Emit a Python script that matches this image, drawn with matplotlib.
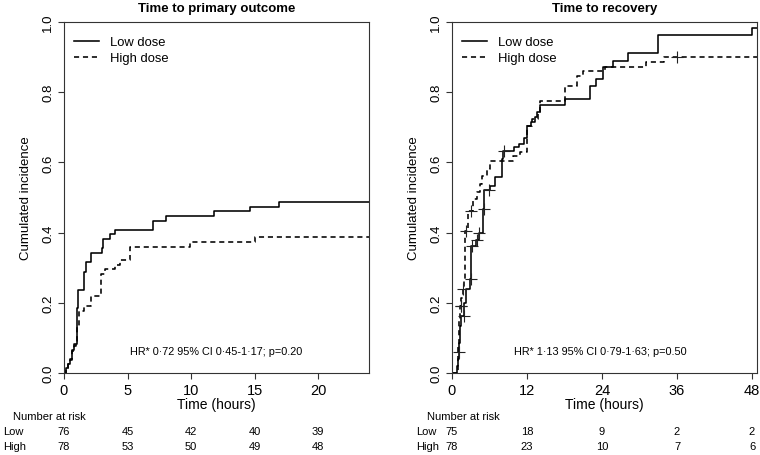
import matplotlib
matplotlib.use("Agg")
import matplotlib.pyplot as plt
import matplotlib.transforms as mtransforms
import numpy as np

plt.rcParams["font.family"] = ["Liberation Sans", "DejaVu Sans"]

# ---------------------------------------------------------------------------
# data
# ---------------------------------------------------------------------------
# left panel: time to primary outcome
prim_low_t = [0, 0.15, 0.3, 0.45, 0.6, 0.75, 1.0, 1.13, 1.57, 1.73, 2.1, 2.97,
              3.1, 3.6, 4.0, 7.0, 8.0, 11.8, 14.6, 16.9]
prim_low_v = [0, 0.013, 0.026, 0.04, 0.066, 0.083, 0.185, 0.236, 0.289, 0.315,
              0.341, 0.356, 0.382, 0.396, 0.408, 0.434, 0.448, 0.461, 0.474, 0.487]
prim_high_t = [0, 0.15, 0.3, 0.45, 0.6, 0.75, 0.95, 1.05, 1.15, 1.6, 2.1, 2.9,
               3.2, 4.0, 4.4, 5.2, 9.9, 15.0]
prim_high_v = [0, 0.013, 0.026, 0.038, 0.064, 0.077, 0.09, 0.135, 0.177, 0.19,
               0.218, 0.282, 0.296, 0.308, 0.321, 0.36, 0.373, 0.387]

# right panel: time to recovery
rec_low_t = [0, 0.85, 0.95, 1.05, 1.15, 1.25, 1.35, 1.5, 1.9, 2.3, 2.85, 3.1,
             3.9, 4.37, 4.9, 5.0, 5.2, 6.1, 6.9, 7.95, 8.2, 9.9, 10.7, 11.5,
             12.0, 12.6, 13.2, 13.6, 14.0, 18.0, 22.0, 23.0, 24.1, 25.8, 28.2,
             33.0, 47.95]
rec_low_v = [0, 0.02, 0.04, 0.06, 0.085, 0.11, 0.135, 0.163, 0.2, 0.24, 0.268,
             0.363, 0.38, 0.40, 0.44, 0.467, 0.52, 0.534, 0.557, 0.61, 0.633,
             0.643, 0.652, 0.669, 0.705, 0.714, 0.728, 0.743, 0.764, 0.78,
             0.817, 0.838, 0.871, 0.89, 0.911, 0.963, 0.982]
rec_high_t = [0, 0.9, 1.0, 1.1, 1.2, 1.35, 1.5, 1.7, 1.85, 2.15, 2.6, 3.4,
              3.95, 4.48, 4.75, 5.55, 6.08, 9.8, 10.9, 11.95, 12.75, 13.8,
              14.1, 18.0, 19.95, 21.0, 24.5, 31.0, 33.9]
rec_high_v = [0, 0.04, 0.08, 0.12, 0.155, 0.19, 0.215, 0.24, 0.262, 0.405,
              0.462, 0.496, 0.515, 0.538, 0.562, 0.581, 0.605, 0.619, 0.63,
              0.705, 0.724, 0.745, 0.776, 0.817, 0.845, 0.86, 0.873, 0.885,
              0.901]
rec_low_cens = [1.12, 1.87, 2.99, 3.2, 4.05, 4.4, 5.1, 6.0, 8.4]
rec_high_cens = [1.4, 1.45, 1.76, 2.3, 3.1, 36.0]

# number at risk
prim_risk_t = [0, 5, 10, 15, 20]
prim_risk_low = [76, 45, 42, 40, 39]
prim_risk_high = [78, 53, 50, 49, 48]
rec_risk_t = [0, 12, 24, 36, 48]
rec_risk_low = [75, 18, 9, 2, 2]
rec_risk_high = [78, 23, 10, 7, 6]

prim_hr = "HR* 0·72 95% CI 0·45-1·17; p=0.20"
rec_hr = "HR* 1·13 95% CI 0·79-1·63; p=0.50"

DASH = (0, (3.2, 2.4))
BOX = "#333333"


def _step(ax, times, values, xmax, ls):
    t = np.append(times, xmax)
    v = np.append(values, values[-1])
    ax.step(t, v, where="post", color="black", lw=1.15, linestyle=ls)


def _censor(ax, times, values, cens):
    times = np.asarray(times)
    idx = np.searchsorted(times, cens, side="right") - 1
    y = np.asarray(values)[idx]
    ax.plot(cens, y, ls="none", marker="+", ms=8.5, mew=0.8, color="#222222")


def _panel(ax, title, xmax, xticks, low, high, hr_text, hr_x,
           risk_t, risk_low, risk_high, name_x, header_x):
    _step(ax, low[0], low[1], xmax, "-")
    _step(ax, high[0], high[1], xmax, DASH)
    ax.plot([], [], color="black", lw=1.15, label="Low dose")
    ax.plot([], [], color="black", lw=1.15, ls=DASH, label="High dose")

    ax.set_xlim(0, xmax)
    ax.set_ylim(0, 1)
    ax.set_xticks(xticks)
    ax.set_yticks([0, 0.2, 0.4, 0.6, 0.8, 1.0])
    ax.set_yticklabels(["0.0", "0.2", "0.4", "0.6", "0.8", "1.0"],
                       rotation=90, va="center")
    ax.tick_params(axis="x", labelsize=10.5, length=4.5, width=0.8, pad=2.5,
                   color=BOX)
    ax.tick_params(axis="y", labelsize=9.5, length=4.5, width=0.8, pad=2.5,
                   color=BOX)
    for sp in ax.spines.values():
        sp.set_color(BOX)
        sp.set_linewidth(0.8)

    ax.set_title(title, fontsize=9.5, fontweight="bold", pad=8)
    ax.set_xlabel("Time (hours)", fontsize=10, labelpad=0)
    ax.set_ylabel("Cumulated incidence", fontsize=9.5)
    ax.yaxis.set_label_coords(-0.105, 0.5)

    ax.legend(loc="upper left", frameon=False, fontsize=9.4, handlelength=1.85,
              handletextpad=0.9, labelspacing=0.3, borderaxespad=0.4,
              bbox_to_anchor=(0.0, 0.99))
    ax.text(hr_x, 0.063, hr_text, ha="center", va="center", fontsize=7.8)

    # number at risk table below the axes
    fig = ax.figure
    trans = mtransforms.blended_transform_factory(ax.transData, fig.transFigure)
    ax.text(header_x, 0.086, "Number at risk", transform=fig.transFigure,
            ha="left", va="center", fontsize=8)
    for lab, yy, counts in (("Low", 0.053, risk_low), ("High", 0.019, risk_high)):
        ax.text(name_x, yy, lab, transform=fig.transFigure, ha="left",
                va="center", fontsize=8)
        for t, n in zip(risk_t, counts):
            ax.text(t, yy, str(n), transform=trans, ha="center", va="center",
                    fontsize=8, clip_on=False)


fig = plt.figure(figsize=(7.6, 4.56), dpi=100)
ax1 = fig.add_axes([64 / 760, 1 - 374 / 456, 305 / 760, 351 / 456])
ax2 = fig.add_axes([452 / 760, 1 - 374 / 456, 305 / 760, 351 / 456])

_panel(ax1, "Time to primary outcome", 24, [0, 5, 10, 15, 20],
       (prim_low_t, prim_low_v), (prim_high_t, prim_high_v), prim_hr, 12.0,
       prim_risk_t, prim_risk_low, prim_risk_high, 3 / 760, 13 / 760)
_panel(ax2, "Time to recovery", 48.8, [0, 12, 24, 36, 48],
       (rec_low_t, rec_low_v), (rec_high_t, rec_high_v), rec_hr, 23.8,
       rec_risk_t, rec_risk_low, rec_risk_high, 416 / 760, 427 / 760)
_censor(ax2, rec_low_t, rec_low_v, rec_low_cens)
_censor(ax2, rec_high_t, rec_high_v, rec_high_cens)

fig.savefig("out.png", dpi=100)
